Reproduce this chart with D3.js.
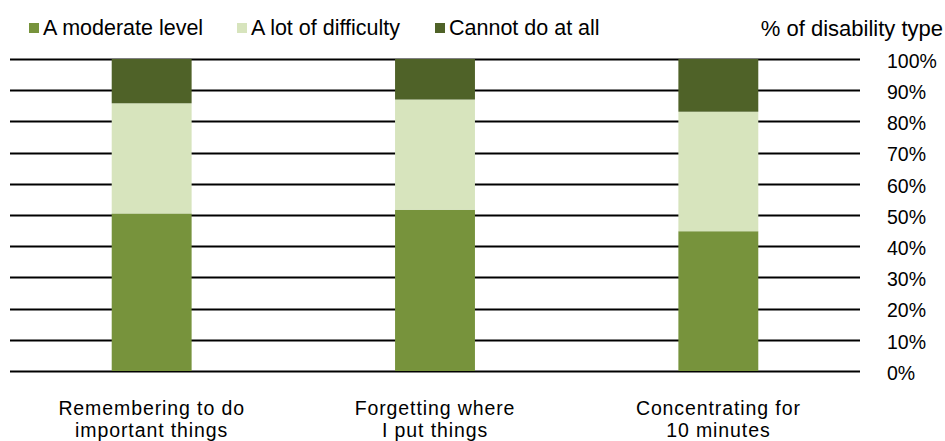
<!DOCTYPE html>
<html>
<head>
<meta charset="utf-8">
<script src="https://cdn.jsdelivr.net/npm/d3@7"></script>
<style>
  html, body { margin: 0; padding: 0; background: #fff; }
  svg { display: block; font-family: "Liberation Sans", Arial, sans-serif; }
</style>
</head>
<body>
<svg id="chart" width="945" height="441"></svg>
<script>
const categories = [
  ["Remembering to do", "important things"],
  ["Forgetting where", "I put things"],
  ["Concentrating for", "10 minutes"]
];
const seriesNames = ["A moderate level", "A lot of difficulty", "Cannot do at all"];
const moderate = [50.5, 51.7, 44.8];
const aLot = [35.3, 35.3, 38.3];
const cannot = [14.2, 13.0, 16.9];
const tickValues = [0, 10, 20, 30, 40, 50, 60, 70, 80, 90, 100];
const colors = ["#77933C", "#D7E4BD", "#4F6228"];
const axisTitle = "% of disability type";

(function () {
const svg = d3.select("#chart");
const plotLeft = 10, plotRight = 860, plotTop = 59, plotBottom = 371;

const x = d3.scaleBand().domain(d3.range(categories.length)).range([plotLeft, plotRight]).paddingInner(0.718).paddingOuter(0.359);
const y = d3.scaleLinear().domain([0, 100]).range([plotBottom, plotTop]);

// gridlines
svg.append("g").selectAll("line").data(tickValues).join("line")
  .attr("x1", plotLeft).attr("x2", plotRight)
  .attr("y1", d => Math.round(y(d)) + 0.5).attr("y2", d => Math.round(y(d)) + 0.5)
  .attr("stroke", "#000").attr("stroke-width", 2);

// stacked data
const rows = categories.map((c, i) => ({i, s0: moderate[i], s1: aLot[i], s2: cannot[i]}));
const stack = d3.stack().keys(["s0", "s1", "s2"])(rows);

svg.append("g").selectAll("g").data(stack).join("g")
  .attr("fill", (d, k) => colors[k])
  .selectAll("rect").data(d => d).join("rect")
  .attr("x", d => x(d.data.i))
  .attr("width", x.bandwidth())
  .attr("y", d => y(d[1]))
  .attr("height", d => y(d[0]) - y(d[1]));

// right axis labels
const yAxis = d3.axisRight(y).tickValues(tickValues).tickFormat(d => d + "%").tickSize(0).tickPadding(0);
const ag = svg.append("g").attr("transform", `translate(887,2)`).call(yAxis);
ag.select(".domain").remove();
ag.selectAll("text").attr("font-size", 19.5).attr("fill", "#000").attr("font-family", "Liberation Sans, Arial, sans-serif");

// axis title
svg.append("text").attr("x", 943).attr("y", 36).attr("text-anchor", "end")
  .attr("font-size", 22).text(axisTitle);

// category labels
const cl = svg.append("g").selectAll("text").data(categories).join("text")
  .attr("text-anchor", "middle").attr("font-size", 19.5).attr("letter-spacing", 0.9)
  .attr("transform", (d, i) => `translate(${x(i) + x.bandwidth() / 2},0)`);
cl.each(function(d) {
  const t = d3.select(this);
  d.forEach((line, j) => t.append("tspan").attr("x", 0).attr("y", 415 + j * 22).text(line));
});

// legend
const legendX = [29, 237, 435];
const lg = svg.append("g").selectAll("g").data(seriesNames).join("g")
  .attr("transform", (d, i) => `translate(${legendX[i]},0)`);
lg.append("rect").attr("x", 0).attr("y", 23).attr("width", 10).attr("height", 10).attr("fill", (d, i) => colors[i]);
lg.append("text").attr("x", 14).attr("y", 35).attr("font-size", 21.5).text(d => d);
})();
</script>
</body>
</html>
